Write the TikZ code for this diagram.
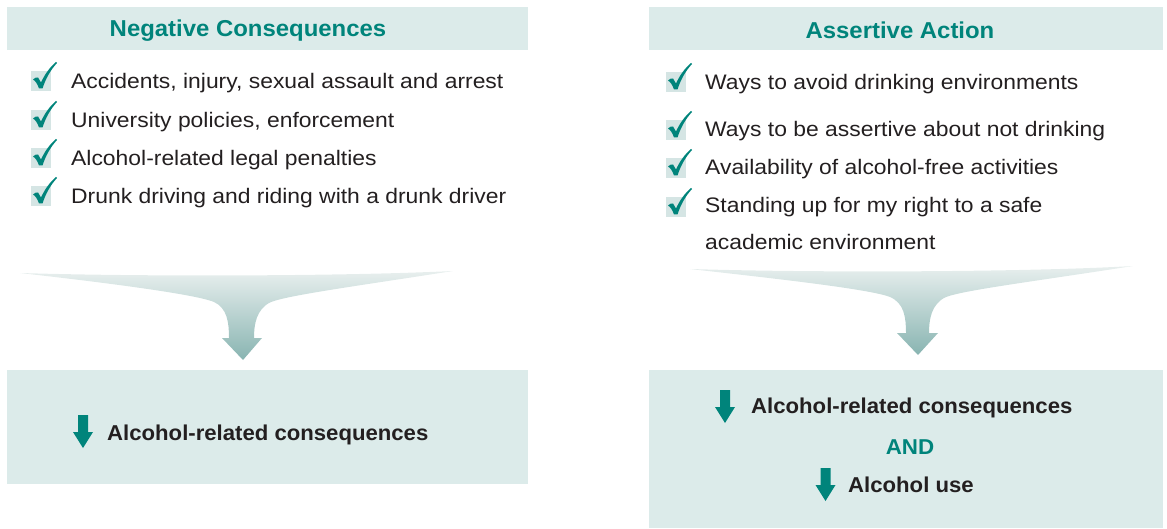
\documentclass[tikz,border=0pt]{standalone}
\usepackage{fontspec}
\setmainfont{Liberation Sans}
\newfontfamily\bodyf[FakeStretch=1.09]{Liberation Sans}
\newfontfamily\boldf[FakeStretch=1.03]{Liberation Sans Bold}
\newfontfamily\headf[FakeStretch=1.04]{Liberation Sans Bold}
\definecolor{teal1}{HTML}{00847B}
\definecolor{panel}{HTML}{DCEBEA}
\definecolor{ink}{HTML}{231F20}
\definecolor{ckbox}{HTML}{D5E5E4}
\definecolor{funtop}{HTML}{E8EFEE}
\definecolor{funbot}{HTML}{88B4B1}
\tikzset{
  headbox/.style={fill=panel, inner sep=0pt, minimum height=43pt},
  headtext/.style={inner sep=0pt, text=teal1, font=\headf\fontsize{23}{25}\selectfont},
  item/.style={anchor=base west, inner sep=0pt, text=ink, font=\bodyf\fontsize{21}{24}\selectfont},
  result/.style={anchor=base west, inner sep=0pt, text=ink, font=\boldf\fontsize{21.5}{24}\selectfont},
  panelbox/.style={fill=panel, inner sep=0pt},
  check/.pic={
    \fill[ckbox] (0,0) rectangle (20,20);
    \fill[teal1] (2,8.5) .. controls (4,6.5) and (6,6) .. (7,6.5) -- (10,11.5) .. controls (13.5,4) and (18,-3) .. (25,-9) -- (26,-8) .. controls (19.5,-1) and (14.5,8) .. (11.5,17.5) -- (8,17.5) .. controls (6.5,13) and (4.5,10) .. (2,8.5) -- cycle;
  },
  darrow/.pic={
    \fill[teal1] (-5,0) -- (5,0) -- (5,17) -- (10,17) -- (0,33) -- (-10,17) -- (-5,17) -- cycle;
  }
}
\begin{document}
\begin{tikzpicture}[x=1pt,y=-1pt]
\useasboundingbox (0,0) rectangle (1167,529);
% headers
\node[headbox, minimum width=521pt] (h1) at (267.5,28.5) {};
\node[headtext] (t1) at (248,30.5) {Negative Consequences};
\node[headbox, minimum width=514pt] (h2) at (906,28.5) {};
\node[headtext] (t2) at (900,30.5) {Assertive Action};
% left list
\pic at (31,71) {check};
\pic at (31,110) {check};
\pic at (31,148) {check};
\pic at (31,186) {check};
\node[item] (l1) at (71,89) {Accidents, injury, sexual assault and arrest};
\node[item] (l2) at (71,128) {University policies, enforcement};
\node[item] (l3) at (71,166) {Alcohol-related legal penalties};
\node[item] (l4) at (71,204) {Drunk driving and riding with a drunk driver};
% right list
\pic at (666,72) {check};
\pic at (666,120) {check};
\pic at (666,158) {check};
\pic at (666,197) {check};
\node[item] (r1) at (705,90) {Ways to avoid drinking environments};
\node[item] (r2) at (705,137) {Ways to be assertive about not drinking};
\node[item] (r3) at (705,175) {Availability of alcohol-free activities};
\node[item] (r4) at (705,213) {Standing up for my right to a safe};
\node[item] (r5) at (705,250) {academic environment};
% funnels
\shade[top color=funtop, bottom color=funbot]
  (20,273) .. controls (150,277) and (350,276) .. (453,271)
  .. controls (350,287) and (290,295) .. (271,302)
  .. controls (256,309) and (254,325) .. (254,338)
  -- (262,338) -- (243,360) -- (222,338) -- (229,338)
  .. controls (229,322) and (227,308) .. (214,302)
  .. controls (195,294) and (100,282) .. (20,273) -- cycle;
\shade[top color=funtop, bottom color=funbot]
  (690,269) .. controls (820,273) and (1030,272) .. (1133,266)
  .. controls (1030,282) and (965,290) .. (946,297)
  .. controls (931,304) and (929,320) .. (929,333)
  -- (938,333) -- (918,355) -- (897,333) -- (906,333)
  .. controls (906,317) and (904,303) .. (890,297)
  .. controls (870,289) and (770,278) .. (690,269) -- cycle;
% bottom boxes
\node[panelbox, minimum width=521pt, minimum height=114pt] (b1) at (267.5,427) {};
\node[panelbox, minimum width=514pt, minimum height=158pt] (b2) at (906,449) {};
\pic at (83,415) {darrow};
\node[result] (c1) at (107,440) {Alcohol-related consequences};
\pic at (725,390) {darrow};
\node[result] (c2) at (751,413) {Alcohol-related consequences};
\node[headtext, anchor=base, font=\headf\fontsize{21.5}{24}\selectfont] (and) at (910,454) {AND};
\pic at (825.5,468) {darrow};
\node[result] (c3) at (848,492) {Alcohol use};
\end{tikzpicture}
\end{document}
